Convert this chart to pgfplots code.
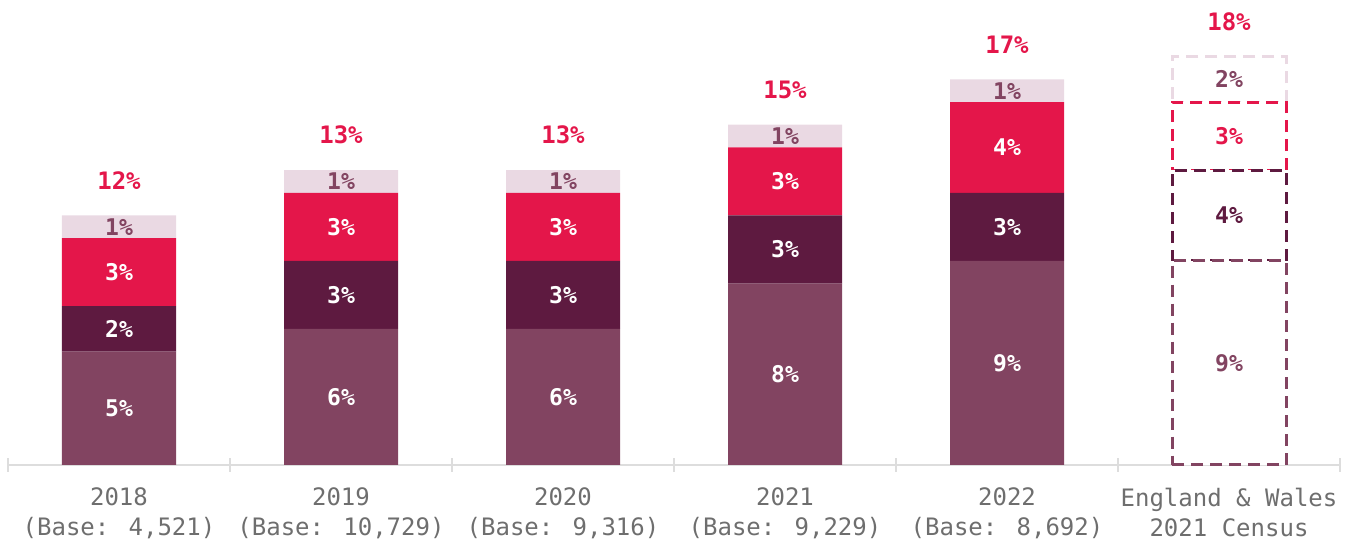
\documentclass[border=0pt]{standalone}
\usepackage{pgfplots}
\pgfplotsset{compat=1.18}
\usepackage{fontspec}
\setmainfont{DejaVu Sans Mono}
\newfontfamily\lblfont{DejaVu Sans Mono}
\usetikzlibrary{calc}

\definecolor{mauve}{HTML}{824461}
\definecolor{plum}{HTML}{5E1A40}
\definecolor{crimson}{HTML}{E4164A}
\definecolor{blush}{HTML}{EAD9E3}
\definecolor{ticktext}{HTML}{6E6E6E}
\definecolor{axisgrey}{HTML}{DDDDDD}

\pgfplotsset{
  base/.style={
    scale only axis, width=666pt, height=232.5pt,
    xmin=-0.5, xmax=5.5, ymin=0, ymax=20.5,
    ybar stacked, bar width=57pt, clip=false,
  },
  census/.style={fill=white, dash pattern=on 6pt off 3.5pt, line width=1.5pt},
}
\tikzset{
  seg/.style={font=\lblfont\bfseries\fontsize{11.5}{13}\selectfont, text=white},
  tot/.style={font=\lblfont\bfseries\fontsize{12}{14}\selectfont, text=crimson, yshift=17.5pt},
}

\begin{document}
\begin{tikzpicture}
\begin{axis}[base,
    axis x line=bottom, axis y line=none,
    axis line style={-, axisgrey, line width=1pt},
    xtick={0,...,5},
    xticklabels={{2018\\(Base: 4,521)},{2019\\(Base: 10,729)},{2020\\(Base: 9,316)},
                 {2021\\(Base: 9,229)},{2022\\(Base: 8,692)},{England \& Wales\\2021 Census}},
    xticklabel style={align=center, font=\fontsize{12}{15}\selectfont, text=ticktext, yshift=-8pt},
    major tick length=0pt,
    extra x ticks={-0.5,0.5,1.5,2.5,3.5,4.5,5.5},
    extra x tick labels={},
    extra x tick style={major tick length=7pt, tick align=center,
                        tick style={axisgrey, line width=1pt}},
]
  \addplot[fill=mauve, draw=none] coordinates {(0,5) (1,6) (2,6) (3,8) (4,9)};
  \addplot[fill=plum, draw=none] coordinates {(0,2) (1,3) (2,3) (3,3) (4,3)};
  \addplot[fill=crimson, draw=none] coordinates {(0,3) (1,3) (2,3) (3,3) (4,4)};
  \addplot[fill=blush, draw=none] coordinates {(0,1) (1,1) (2,1) (3,1) (4,1)};
\end{axis}

% census bar: outlined only
\begin{axis}[base, hide axis]
  \addplot[census, draw=mauve] coordinates {(5,9)};
  \addplot[census, draw=plum] coordinates {(5,4)};
  \addplot[census, draw=crimson] coordinates {(5,3)};
  \addplot[census, draw=blush] coordinates {(5,2)};
\end{axis}

% value labels on top of everything
\begin{axis}[base, hide axis]
  \node[seg] at (axis cs:0,2.5) {5\%};
  \node[seg] at (axis cs:0,6) {2\%};
  \node[seg] at (axis cs:0,8.5) {3\%};
  \node[seg, text=mauve] at (axis cs:0,10.5) {1\%};
  \node[seg] at (axis cs:1,3) {6\%};
  \node[seg] at (axis cs:1,7.5) {3\%};
  \node[seg] at (axis cs:1,10.5) {3\%};
  \node[seg, text=mauve] at (axis cs:1,12.5) {1\%};
  \node[seg] at (axis cs:2,3) {6\%};
  \node[seg] at (axis cs:2,7.5) {3\%};
  \node[seg] at (axis cs:2,10.5) {3\%};
  \node[seg, text=mauve] at (axis cs:2,12.5) {1\%};
  \node[seg] at (axis cs:3,4) {8\%};
  \node[seg] at (axis cs:3,9.5) {3\%};
  \node[seg] at (axis cs:3,12.5) {3\%};
  \node[seg, text=mauve] at (axis cs:3,14.5) {1\%};
  \node[seg] at (axis cs:4,4.5) {9\%};
  \node[seg] at (axis cs:4,10.5) {3\%};
  \node[seg] at (axis cs:4,14) {4\%};
  \node[seg, text=mauve] at (axis cs:4,16.5) {1\%};
  \node[seg, text=mauve] at (axis cs:5,4.5) {9\%};
  \node[seg, text=plum] at (axis cs:5,11) {4\%};
  \node[seg, text=crimson] at (axis cs:5,14.5) {3\%};
  \node[seg, text=mauve] at (axis cs:5,17) {2\%};

  \node[tot] at (axis cs:0,11) {12\%};
  \node[tot] at (axis cs:1,13) {13\%};
  \node[tot] at (axis cs:2,13) {13\%};
  \node[tot] at (axis cs:3,15) {15\%};
  \node[tot] at (axis cs:4,17) {17\%};
  \node[tot] at (axis cs:5,18) {18\%};
\end{axis}

\pgfresetboundingbox
\path[use as bounding box] ($(current axis.south west)+(-4pt,-39.5pt)$)
  rectangle ($(current axis.north east)+(8pt,0pt)$);
\end{tikzpicture}
\end{document}
